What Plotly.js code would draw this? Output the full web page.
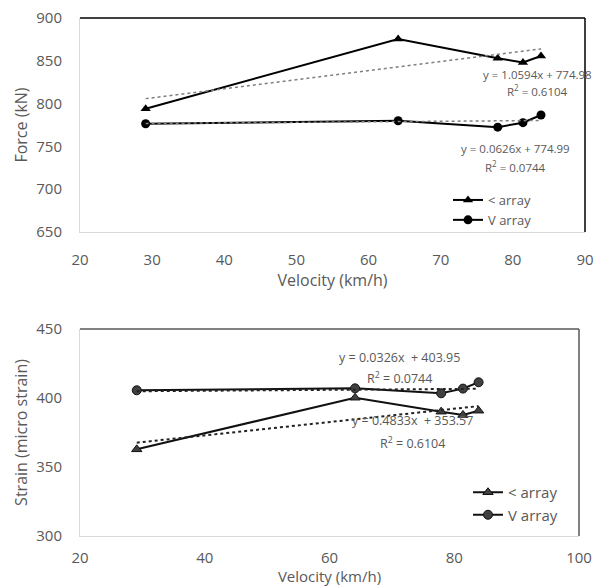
<!DOCTYPE html>
<html>
<head>
<meta charset="utf-8">
<script src="https://cdn.plot.ly/plotly-3.0.1.min.js"></script>
<style>html,body{margin:0;padding:0;background:#fff;}#chart{width:599px;height:586px;}</style>
</head>
<body>
<div id="chart"></div>
<script>
// ---- data ----
const velocity = [29.1, 64.1, 77.9, 81.4, 83.9];
const forceLessArray = [794, 875.5, 853, 848, 855.6];
const forceVArray = [776.5, 780, 772.5, 777.7, 786.7];
const strainLessArray = [362.8, 400.2, 390.1, 387.7, 390.8];
const strainVArray = [405.6, 407, 403.4, 406.8, 411.4];
const seriesNames = ["< array", "V array"];
// trend line coefficients [slope, intercept] as printed on the chart
const forceTrendLess = [1.0594, 774.98];
const forceTrendV = [0.0626, 774.99];
const strainTrendLess = [0.4833, 353.57];
const strainTrendV = [0.0326, 403.95];
const forceTicks = [650, 700, 750, 800, 850, 900];
const strainTicks = [300, 350, 400, 450];
const velTicksTop = [20, 30, 40, 50, 60, 70, 80, 90];
const velTicksBottom = [20, 40, 60, 80, 100];

const W = 599, H = 586;
const xMin = Math.min(...velocity), xMax = Math.max(...velocity);
function trend(c){ return [xMin, xMax].map(x => c[0]*x + c[1]); }

const FONT = "Open Sans, Noto Sans, sans-serif";
const GREY = "#595959";

const traces = [
  {x: velocity, y: forceLessArray, name: seriesNames[0], xaxis: 'x', yaxis: 'y', legend: 'legend',
   mode: 'lines+markers', line: {color: '#000', width: 2}, marker: {symbol: 'triangle-up', size: 9, color: '#000'}},
  {x: velocity, y: forceVArray, name: seriesNames[1], xaxis: 'x', yaxis: 'y', legend: 'legend',
   mode: 'lines+markers', line: {color: '#000', width: 2}, marker: {symbol: 'circle', size: 9, color: '#000'}},
  {x: [xMin, xMax], y: trend(forceTrendLess), xaxis: 'x', yaxis: 'y', showlegend: false, hoverinfo: 'skip',
   mode: 'lines', line: {color: '#7f7f7f', width: 1.5, dash: 'dot'}},
  {x: [xMin, xMax], y: trend(forceTrendV), xaxis: 'x', yaxis: 'y', showlegend: false, hoverinfo: 'skip',
   mode: 'lines', line: {color: '#7f7f7f', width: 1.5, dash: 'dot'}},

  {x: velocity, y: strainLessArray, name: seriesNames[0], xaxis: 'x2', yaxis: 'y2', legend: 'legend2',
   mode: 'lines+markers', line: {color: '#111', width: 2}, marker: {symbol: 'triangle-up', size: 9, color: '#404040', line: {color: '#111', width: 1}}},
  {x: velocity, y: strainVArray, name: seriesNames[1], xaxis: 'x2', yaxis: 'y2', legend: 'legend2',
   mode: 'lines+markers', line: {color: '#111', width: 2}, marker: {symbol: 'circle', size: 9, color: '#404040', line: {color: '#111', width: 1}}},
  {x: [xMin, xMax], y: trend(strainTrendLess), xaxis: 'x2', yaxis: 'y2', showlegend: false, hoverinfo: 'skip',
   mode: 'lines', line: {color: '#222', width: 2, dash: 'dot'}},
  {x: [xMin, xMax], y: trend(strainTrendV), xaxis: 'x2', yaxis: 'y2', showlegend: false, hoverinfo: 'skip',
   mode: 'lines', line: {color: '#222', width: 2, dash: 'dot'}}
];

const px = v => v / W, py = v => 1 - v / H;

const axisCommon = {
  showgrid: false, zeroline: false, showline: true, linecolor: '#d9d9d9', linewidth: 1,
  ticks: 'outside', tickcolor: 'rgba(0,0,0,0)', automargin: false,
  tickfont: {family: FONT, size: 15, color: GREY}, fixedrange: true
};

function ann(text, x, y, size){
  return {text: text, xref: 'paper', yref: 'paper', x: px(x), y: py(y), xanchor: 'center', yanchor: 'middle',
          showarrow: false, font: {family: FONT, size: size, color: GREY}};
}

const layout = {
  width: W, height: H, margin: {l: 0, r: 0, t: 0, b: 0},
  paper_bgcolor: '#fff', plot_bgcolor: '#fff', showlegend: true,
  font: {family: FONT, color: GREY},
  xaxis: Object.assign({}, axisCommon, {domain: [px(80), px(585)], range: [20, 90], tickvals: velTicksTop, ticklen: 14,
    anchor: 'y', title: {text: 'Velocity (km/h)', font: {family: FONT, size: 16, color: GREY}, standoff: 0}}),
  yaxis: Object.assign({}, axisCommon, {domain: [py(232), py(18)], range: [650, 900], tickvals: forceTicks, ticklen: 14,
    anchor: 'x', title: {text: 'Force (kN)', font: {family: FONT, size: 16, color: GREY}, standoff: 4}}),
  xaxis2: Object.assign({}, axisCommon, {domain: [px(80), px(579)], range: [20, 100], tickvals: velTicksBottom, ticklen: 8,
    tickfont: {family: FONT, size: 15, color: GREY},
    anchor: 'y2', title: {text: 'Velocity (km/h)', font: {family: FONT, size: 15, color: GREY}, standoff: 0}}),
  yaxis2: Object.assign({}, axisCommon, {domain: [py(536), py(329)], range: [300, 450], tickvals: strainTicks, ticklen: 14,
    anchor: 'x2', title: {text: 'Strain (micro strain)', font: {family: FONT, size: 16, color: GREY}, standoff: 4}}),
  legend: {x: px(448), y: py(185), xanchor: 'left', yanchor: 'top', bgcolor: 'rgba(0,0,0,0)',
           font: {family: FONT, size: 13, color: GREY}, tracegroupgap: 0},
  legend2: {x: px(468), y: py(476), xanchor: 'left', yanchor: 'top', bgcolor: 'rgba(0,0,0,0)',
           font: {family: FONT, size: 15, color: GREY}, tracegroupgap: 0},
  shapes: [
    {type: 'line', xref: 'x domain', yref: 'y domain', x0: 0, x1: 1, y0: 1, y1: 1, line: {color: '#000', width: 1.5}},
    {type: 'line', xref: 'x domain', yref: 'y domain', x0: 1, x1: 1, y0: 0, y1: 1, line: {color: '#000', width: 1.5}},
    {type: 'line', xref: 'x2 domain', yref: 'y2 domain', x0: 0, x1: 1, y0: 1, y1: 1, line: {color: '#595959', width: 1.5}},
    {type: 'line', xref: 'x2 domain', yref: 'y2 domain', x0: 1, x1: 1, y0: 0, y1: 1, line: {color: '#595959', width: 1.5}}
  ],
  annotations: [
    ann('y = 1.0594x + 774.98', 537, 74, 11.5),
    ann('R<sup>2</sup> = 0.6104', 537, 91, 11.5),
    ann('y = 0.0626x + 774.99', 515, 148, 11.5),
    ann('R<sup>2</sup> = 0.0744', 515, 166, 11.5),
    ann('y = 0.0326x  + 403.95', 399, 357, 12.5),
    ann('R<sup>2</sup> = 0.0744', 399, 378, 12.5),
    ann('y = 0.4833x  + 353.57', 412, 420, 12.5),
    ann('R<sup>2</sup> = 0.6104', 412, 443, 12.5)
  ]
};

Plotly.newPlot('chart', traces, layout, {displayModeBar: false, staticPlot: true});
</script>
</body>
</html>
